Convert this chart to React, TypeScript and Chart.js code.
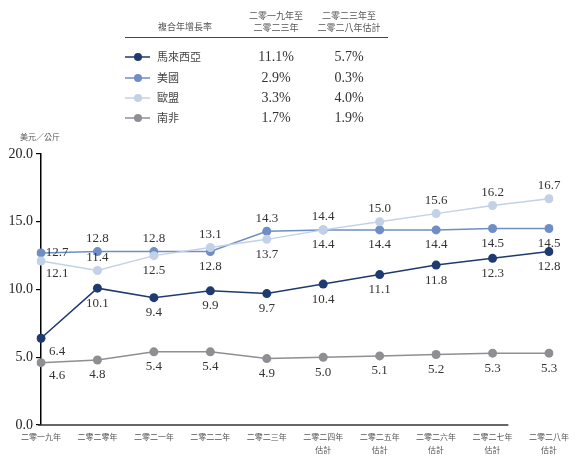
import React, { useEffect, useRef } from "react";
import { Chart, registerables } from "chart.js";
Chart.register(...registerables);

const SERIF = "'Liberation Serif', 'DejaVu Serif', serif";
const CJK = "'Noto Sans CJK TC', 'Noto Sans CJK SC', sans-serif";

const categories: string[][] = [
  ["二零一九年"], ["二零二零年"], ["二零二一年"], ["二零二二年"], ["二零二三年"],
  ["二零二四年", "估計"], ["二零二五年", "估計"], ["二零二六年", "估計"], ["二零二七年", "估計"], ["二零二八年", "估計"],
];

const seriesNames = ["馬來西亞", "美國", "歐盟", "南非"];
const malaysia = [6.4, 10.1, 9.4, 9.9, 9.7, 10.4, 11.1, 11.8, 12.3, 12.8];
const usa = [12.7, 12.8, 12.8, 12.8, 14.3, 14.4, 14.4, 14.4, 14.5, 14.5];
const eu = [12.1, 11.4, 12.5, 13.1, 13.7, 14.4, 15.0, 15.6, 16.2, 16.7];
const southAfrica = [4.6, 4.8, 5.4, 5.4, 4.9, 5.0, 5.1, 5.2, 5.3, 5.3];

const cagr1 = ["11.1%", "2.9%", "3.3%", "1.7%"];
const cagr2 = ["5.7%", "0.3%", "4.0%", "1.9%"];
const headerTitle = "複合年增長率";
const headerCol1 = ["二零一九年至", "二零二三年"];
const headerCol2 = ["二零二三年至", "二零二八年估計"];
const yUnit = "美元／公斤";

const yTicks = [0, 5, 10, 15, 20];

const colors = ["#1f3a6e", "#6f8ec5", "#c3d1e7", "#8e8f93"];

// label placement: a = above, b = below, r = right, br = below-right
const labelPos = [
  ["br", "b", "b", "b", "b", "b", "b", "b", "b", "b"],
  ["r", "a", "a", "b", "a", "b", "b", "b", "b", "b"],
  ["br", "a", "b", "a", "b", "a", "a", "a", "a", "a"],
  ["br", "b", "b", "b", "b", "b", "b", "b", "b", "b"],
];

const labelsPlugin = {
  id: "pointLabels",
  afterDatasetsDraw(chart: any) {
    const ctx = chart.ctx;
    ctx.save();
    ctx.font = `13px ${SERIF}`;
    ctx.fillStyle = "#333";
    ctx.textAlign = "center";
    ctx.textBaseline = "middle";
    chart.data.datasets.forEach((ds: any, di: number) => {
      const meta = chart.getDatasetMeta(di);
      meta.data.forEach((pt: any, i: number) => {
        const v = ds.data[i];
        const p = labelPos[di][i];
        let x = pt.x, y = pt.y;
        if (p === "a") y -= 13;
        else if (p === "b") y += 15;
        else if (p === "r") x += 16;
        else if (p === "br") { x += 16; y += 13; }
        ctx.fillText(v.toFixed(1), x, y);
      });
    });
    ctx.restore();
  },
};

const decorPlugin = {
  id: "decor",
  afterDraw(chart: any) {
    const ctx = chart.ctx;
    const xs = chart.scales.x;
    const ys = chart.scales.y;
    ctx.save();
    // x axis base line
    ctx.strokeStyle = "#333";
    ctx.lineWidth = 1.5;
    ctx.beginPath();
    const y0 = ys.getPixelForValue(0);
    ctx.moveTo(chart.chartArea.left - 3, y0);
    ctx.lineTo(xs.getPixelForValue(8.28), y0);
    ctx.stroke();

    // unit label
    ctx.font = `8px ${CJK}`;
    ctx.fillStyle = "#555";
    ctx.textAlign = "left";
    ctx.textBaseline = "middle";
    ctx.fillText(yUnit, 20, 137);

    // legend table
    const c1 = 276, c2 = 349;
    ctx.font = `9px ${CJK}`;
    ctx.fillStyle = "#555";
    ctx.textAlign = "left";
    ctx.fillText(headerTitle, 158, 27);
    ctx.textAlign = "center";
    ctx.fillText(headerCol1[0], c1, 16);
    ctx.fillText(headerCol1[1], c1, 28);
    ctx.fillText(headerCol2[0], c2, 16);
    ctx.fillText(headerCol2[1], c2, 28);
    ctx.strokeStyle = "#444";
    ctx.lineWidth = 1;
    ctx.beginPath();
    ctx.moveTo(125, 37.5);
    ctx.lineTo(388, 37.5);
    ctx.stroke();

    const rows = [57, 78, 98, 118];
    seriesNames.forEach((name, i) => {
      const ry = rows[i];
      ctx.strokeStyle = colors[i];
      ctx.lineWidth = 1.5;
      ctx.beginPath();
      ctx.moveTo(125, ry);
      ctx.lineTo(150, ry);
      ctx.stroke();
      ctx.fillStyle = colors[i];
      ctx.beginPath();
      ctx.arc(138, ry, 4, 0, Math.PI * 2);
      ctx.fill();
      ctx.fillStyle = "#444";
      ctx.font = `11px ${CJK}`;
      ctx.textAlign = "left";
      ctx.fillText(name, 157, ry);
      ctx.fillStyle = "#333";
      ctx.font = `14px ${SERIF}`;
      ctx.textAlign = "center";
      ctx.fillText(cagr1[i], c1, ry);
      ctx.fillText(cagr2[i], c2, ry);
    });
    ctx.restore();
  },
};

export default function App() {
  const ref = useRef<HTMLCanvasElement | null>(null);
  useEffect(() => {
    if (!ref.current) return;
    const series = [malaysia, usa, eu, southAfrica];
    const orders = [0, 2, 1, 3];
    const chart = new Chart(ref.current, {
      type: "line",
      data: {
        labels: categories as any,
        datasets: series.map((d, i) => ({
          label: seriesNames[i],
          data: d,
          borderColor: colors[i],
          backgroundColor: colors[i],
          pointBackgroundColor: colors[i],
          pointBorderColor: colors[i],
          pointRadius: 4.5,
          pointBorderWidth: 0,
          borderWidth: 1.5,
          tension: 0,
          fill: false,
          order: orders[i],
        })),
      },
      options: {
        responsive: false,
        animation: false,
        layout: { padding: { left: 8, top: 154, right: 24, bottom: 0 } },
        plugins: { legend: { display: false }, tooltip: { enabled: false } },
        scales: {
          x: {
            offset: false,
            grid: { display: false, drawTicks: false },
            border: { display: false },
            ticks: {
              font: { family: CJK, size: 8, lineHeight: 1.6 },
              color: "#555",
              padding: 6,
              maxRotation: 0,
              autoSkip: false,
            },
            afterFit: (s: any) => { s.height = 31; },
          },
          y: {
            min: 0,
            max: 20,
            afterBuildTicks: (s: any) => { s.ticks = yTicks.map((v) => ({ value: v })); },
            ticks: {
              callback: (v: any) => Number(v).toFixed(1),
              font: { family: SERIF, size: 14 },
              color: "#222",
              padding: 3,
            },
            grid: { drawOnChartArea: false, tickLength: 5, color: "#000", lineWidth: 1.2 },
            border: { display: true, color: "#000", width: 1.5 },
            afterFit: (s: any) => { s.width = 33; },
          },
        },
      },
      plugins: [labelsPlugin, decorPlugin],
    });
    return () => chart.destroy();
  }, []);
  return (
    <div style={{ position: "absolute", left: 0, top: 0, width: 575, height: 456, background: "#fff" }}>
      <canvas ref={ref} width={575} height={456} style={{ display: "block" }} />
    </div>
  );
}
